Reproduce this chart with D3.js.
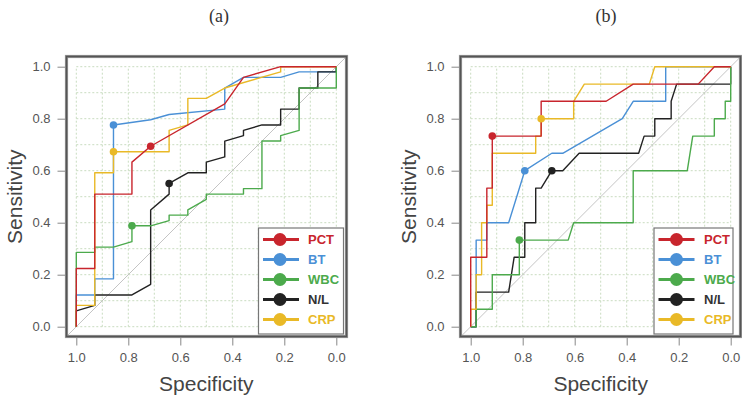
<!DOCTYPE html>
<html><head><meta charset="utf-8">
<script src="https://cdn.jsdelivr.net/npm/d3@7/dist/d3.min.js"></script>
<style>body{margin:0;background:#fff}svg{display:block}</style>
</head><body><svg id="c" width="742" height="400"></svg>
<script>
// ---------- data ----------
const seriesNames = ["PCT", "BT", "WBC", "N/L", "CRP"];
const panelTitles = ["(a)", "(b)"];
const tickValues = [1.0, 0.8, 0.6, 0.4, 0.2, 0.0];
const gridValues = [0,0.1,0.2,0.3,0.4,0.5,0.6,0.7,0.8,0.9,1];

// panel (a): [specificity, sensitivity]
const pctA = [[1,0],[1,.224],[.929,.224],[.929,.51],[.786,.51],[.786,.633],[.714,.694],[.429,.857],[.357,.959],[.214,1],[0,1]];
const btA  = [[1,0],[1,.122],[.929,.122],[.929,.184],[.857,.184],[.857,.776],[.714,.796],[.643,.816],[.429,.837],[.429,.918],[.357,.959],[.214,.959],[.143,.98],[0,.98],[0,1]];
const wbcA = [[1,0],[1,.286],[.929,.286],[.929,.306],[.857,.306],[.786,.327],[.786,.388],[.714,.388],[.643,.408],[.643,.429],[.571,.429],[.571,.449],[.5,.49],[.5,.51],[.357,.51],[.357,.531],[.286,.531],[.286,.714],[.214,.714],[.214,.735],[.143,.755],[.143,.918],[0,.918],[0,1]];
const nlA  = [[1,0],[1,.061],[.929,.082],[.929,.122],[.786,.122],[.714,.163],[.714,.449],[.643,.51],[.643,.551],[.571,.592],[.5,.592],[.5,.633],[.429,.653],[.429,.714],[.357,.735],[.357,.755],[.286,.776],[.214,.776],[.214,.837],[.143,.837],[.143,.918],[.071,.918],[.071,.98],[0,.98],[0,1]];
const crpA = [[1,0],[1,.082],[.929,.082],[.929,.592],[.857,.592],[.857,.673],[.643,.673],[.643,.755],[.571,.776],[.571,.878],[.5,.878],[.429,.918],[.214,.98],[.214,1],[0,1]];
const cutA = [[.714,.694],[.857,.776],[.786,.388],[.643,.551],[.857,.673]];

// panel (b)
const pctB = [[1,0],[1,.267],[.938,.267],[.938,.533],[.917,.533],[.917,.733],[.729,.733],[.729,.867],[.479,.867],[.375,.933],[.125,.933],[.063,1],[0,1]];
const btB  = [[1,0],[.979,0],[.979,.333],[.938,.333],[.938,.4],[.854,.4],[.792,.6],[.688,.667],[.646,.667],[.417,.8],[.375,.867],[.25,.867],[.25,1],[0,1]];
const wbcB = [[1,0],[.979,0],[.979,.067],[.917,.067],[.917,.2],[.813,.2],[.813,.333],[.625,.333],[.604,.4],[.375,.4],[.375,.6],[.167,.6],[.146,.733],[.063,.733],[.063,.8],[.021,.8],[.021,.867],[0,.867],[0,1]];
const nlB  = [[1,0],[.979,0],[.979,.133],[.854,.133],[.833,.267],[.792,.267],[.792,.4],[.75,.4],[.75,.533],[.729,.533],[.688,.6],[.646,.6],[.583,.667],[.354,.667],[.333,.733],[.292,.733],[.292,.8],[.229,.8],[.229,.867],[.208,.933],[0,.933],[0,1]];
const crpB = [[1,0],[1,.067],[.979,.067],[.979,.2],[.958,.2],[.958,.4],[.938,.4],[.938,.467],[.917,.467],[.917,.667],[.75,.667],[.75,.733],[.729,.733],[.729,.8],[.604,.8],[.604,.867],[.563,.933],[.313,.933],[.292,1],[0,1]];
const cutB = [[.917,.733],[.792,.6],[.813,.333],[.688,.6],[.729,.8]];

// ---------- style ----------
const colors = {"PCT":"#c8252d","BT":"#4a90d6","WBC":"#4caa4c","N/L":"#222222","CRP":"#e9b927"};
const drawOrder = ["BT","N/L","WBC","CRP","PCT"];

const panels = [
  {title:panelTitles[0], curves:{"PCT":pctA,"BT":btA,"WBC":wbcA,"N/L":nlA,"CRP":crpA}, cuts:cutA,
   xr:[76.3,336.3], frame:[66.5,346.5], titleX:219, legend:{x:258.5,w:85,lx1:263,lx2:299,cx:280,tx:308}},
  {title:panelTitles[1], curves:{"PCT":pctB,"BT":btB,"WBC":wbcB,"N/L":nlB,"CRP":crpB}, cuts:cutB,
   xr:[470.7,730.7], frame:[460.5,740.5], titleX:606, legend:{x:654,w:79,lx1:658.5,lx2:694.5,cx:676.5,tx:704}}
];

const svg = d3.select("#c");
const yr = [326.7, 66.7];
const frameY = [56.5, 336.5];

panels.forEach(p => {
  const x = d3.scaleLinear().domain([1,0]).range(p.xr);
  const y = d3.scaleLinear().domain([0,1]).range(yr);
  const g = svg.append("g");

  // title
  svg.append("text").attr("x", p.titleX).attr("y", 22).attr("text-anchor","middle")
    .attr("font-family","Liberation Serif, Times New Roman, serif").attr("font-size",18).attr("fill","#333")
    .text(p.title);

  // grid
  g.selectAll(".gv").data(gridValues).enter().append("line")
    .attr("x1", d=>x(d)).attr("x2", d=>x(d)).attr("y1", y(0)).attr("y2", y(1))
    .attr("stroke","#c9dcc0").attr("stroke-width",1).attr("stroke-dasharray","2,2");
  g.selectAll(".gh").data(gridValues).enter().append("line")
    .attr("y1", d=>y(d)).attr("y2", d=>y(d)).attr("x1", x(1)).attr("x2", x(0))
    .attr("stroke","#c9dcc0").attr("stroke-width",1).attr("stroke-dasharray","2,2");

  // diagonal
  g.append("line").attr("x1", x(1.04)).attr("y1", y(-0.04)).attr("x2", x(-0.04)).attr("y2", y(1.04))
    .attr("stroke","#bdbdbd").attr("stroke-width",0.9);

  // curves
  const line = d3.line().x(d=>x(d[0])).y(d=>y(d[1]));
  drawOrder.forEach(name => {
    g.append("path").datum(p.curves[name]).attr("d", line)
      .attr("fill","none").attr("stroke", colors[name]).attr("stroke-width",1.4)
      .attr("stroke-linejoin","round");
  });
  // cut-off points
  drawOrder.forEach(name => {
    const i = seriesNames.indexOf(name);
    const c = p.cuts[i];
    g.append("circle").attr("cx", x(c[0])).attr("cy", y(c[1])).attr("r",3.8).attr("fill", colors[name]);
  });

  // frame
  g.append("rect").attr("x", p.frame[0]).attr("y", frameY[0])
    .attr("width", p.frame[1]-p.frame[0]).attr("height", frameY[1]-frameY[0])
    .attr("fill","none").attr("stroke","#9a9a9a").attr("stroke-width",3.2);
  g.append("rect").attr("x", p.frame[0]).attr("y", frameY[0])
    .attr("width", p.frame[1]-p.frame[0]).attr("height", frameY[1]-frameY[0])
    .attr("fill","none").attr("stroke","#555").attr("stroke-width",1.6);

  // axes
  const ax = g.append("g").attr("transform", `translate(0,${frameY[1]+1})`)
    .call(d3.axisBottom(x).tickValues(tickValues).tickFormat(d3.format(".1f")).tickSize(8).tickPadding(7));
  const ay = g.append("g").attr("transform", `translate(${p.frame[0]-1},0)`)
    .call(d3.axisLeft(y).tickValues(tickValues).tickFormat(d3.format(".1f")).tickSize(8).tickPadding(7));
  [ax, ay].forEach(a => {
    a.select(".domain").remove();
    a.selectAll("line").attr("stroke","#888");
    a.selectAll("text").attr("font-family","Liberation Sans, Arial, sans-serif").attr("font-size",13).attr("fill","#555");
  });

  // axis titles
  svg.append("text").attr("x", (p.xr[0]+p.xr[1])/2).attr("y", 391).attr("text-anchor","middle")
    .attr("font-family","Liberation Sans, Arial, sans-serif").attr("font-size",21).attr("fill","#444").text("Specificity");
  svg.append("text").attr("transform", `translate(${p.frame[0]-45},${(yr[0]+yr[1])/2}) rotate(-90)`)
    .attr("text-anchor","middle")
    .attr("font-family","Liberation Sans, Arial, sans-serif").attr("font-size",21).attr("fill","#444").text("Sensitivity");

  // legend
  const L = p.legend;
  const lg = svg.append("g");
  lg.append("rect").attr("x", L.x).attr("y", 228).attr("width", L.w).attr("height", 106)
    .attr("fill","#fff").attr("stroke","#777").attr("stroke-width",1.2);
  seriesNames.forEach((name, i) => {
    const yy = 239.5 + i*20;
    lg.append("line").attr("x1", L.lx1).attr("x2", L.lx2).attr("y1", yy).attr("y2", yy)
      .attr("stroke", colors[name]).attr("stroke-width",3.2);
    lg.append("circle").attr("cx", L.cx).attr("cy", yy).attr("r",6.5).attr("fill", colors[name]);
    lg.append("text").attr("x", L.tx).attr("y", yy).attr("dy","0.36em")
      .attr("font-family","Liberation Sans, Arial, sans-serif").attr("font-size",13).attr("font-weight","bold")
      .attr("fill", name === "N/L" ? "#333" : colors[name]).text(name);
  });
});
</script></body></html>
